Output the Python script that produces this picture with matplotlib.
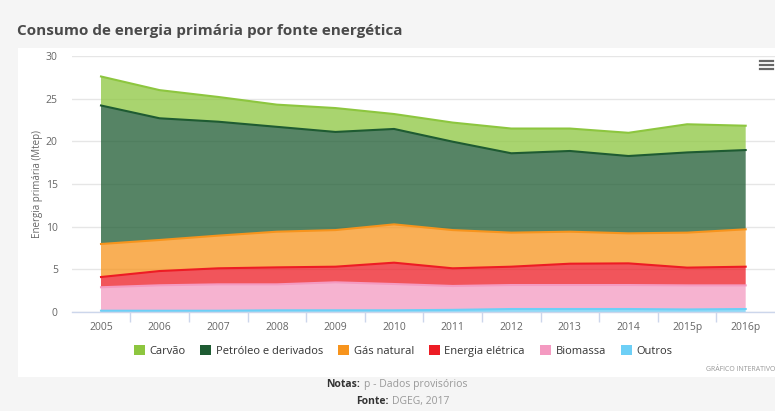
import numpy as np
import matplotlib
matplotlib.use("Agg")
import matplotlib.pyplot as plt
import matplotlib.patches as mpatches
from matplotlib.lines import Line2D

# ---------------------------------------------------------------------------
# Data (Mtep)
# ---------------------------------------------------------------------------
YEARS = ["2005", "2006", "2007", "2008", "2009", "2010",
         "2011", "2012", "2013", "2014", "2015p", "2016p"]

OUTROS    = [0.15, 0.15, 0.15, 0.20, 0.20, 0.20, 0.25, 0.35, 0.35, 0.35, 0.30, 0.35]
BIOMASSA  = [2.75, 2.98, 3.09, 3.04, 3.28, 3.08, 2.80, 2.81, 2.81, 2.81, 2.82, 2.77]
ELETRICA  = [1.20, 1.67, 1.88, 1.99, 1.83, 2.50, 2.07, 2.15, 2.50, 2.54, 2.08, 2.19]
GAS       = [3.87, 3.64, 3.83, 4.18, 4.29, 4.49, 4.48, 3.99, 3.75, 3.52, 4.10, 4.38]
PETROLEO  = [16.23, 14.26, 13.35, 12.29, 11.50, 11.18, 10.36, 9.30, 9.46, 9.06, 9.40, 9.29]
CARVAO    = [3.40, 3.30, 2.90, 2.60, 2.80, 1.75, 2.24, 2.90, 2.63, 2.72, 3.30, 2.85]

# bottom -> top stacking order
SERIES = [
    ("Outros", OUTROS, "#6dcff6"),
    ("Biomassa", BIOMASSA, "#f49ac1"),
    ("Energia elétrica", ELETRICA, "#ed1c24"),
    ("Gás natural", GAS, "#f7941d"),
    ("Petróleo e derivados", PETROLEO, "#1e5b32"),
    ("Carvão", CARVAO, "#8dc63f"),
]

BG_GRAY = "#f5f5f5"
TEXT_GRAY = "#666666"
FONT = ["Open Sans", "DejaVu Sans"]

# ---------------------------------------------------------------------------
# Figure
# ---------------------------------------------------------------------------
fig = plt.figure(figsize=(7.75, 4.11), dpi=100, facecolor=BG_GRAY)

# white chart panel (behind everything)
panel = fig.add_axes([18 / 775, 34 / 411, 1 - 18 / 775, 329 / 411], zorder=-10)
panel.set_facecolor("white")
panel.set_xticks([])
panel.set_yticks([])
for sp in panel.spines.values():
    sp.set_visible(False)

ax = fig.add_axes([71.7 / 775, 99 / 411, 1 - 71.7 / 775, 256 / 411])
ax.patch.set_alpha(0)

x = np.arange(len(YEARS))
values = np.array([s[1] for s in SERIES])
tops = np.cumsum(values, axis=0)

ax.stackplot(x, values, colors=[s[2] for s in SERIES], alpha=0.75,
             linewidth=0, zorder=2)
for (name, vals, col), top in zip(SERIES, tops):
    ax.plot(x, top, color=col, linewidth=1.5, zorder=3, solid_joinstyle="round")

ax.set_xlim(-0.5, len(YEARS) - 0.5)
ax.set_ylim(0, 30)
ax.set_yticks([0, 5, 10, 15, 20, 25, 30])
ax.yaxis.grid(True, color="#e6e6e6", linewidth=1.0, zorder=1)
ax.set_axisbelow(True)

ax.set_xticks(x)
ax.set_xticklabels(YEARS)
ax.set_xticks(np.arange(0.5, len(YEARS) - 0.5, 1.0), minor=True)
ax.tick_params(axis="x", which="major", length=0, pad=7, labelsize=7.5,
               labelcolor=TEXT_GRAY)
ax.tick_params(axis="x", which="minor", length=7, width=1, color="#ccd6eb")
ax.tick_params(axis="y", length=0, pad=10, labelsize=7.5, labelcolor=TEXT_GRAY)
for lab in ax.get_xticklabels() + ax.get_yticklabels():
    lab.set_family(FONT)

for side in ("top", "right", "left"):
    ax.spines[side].set_visible(False)
ax.spines["bottom"].set_color("#ccd6eb")
ax.spines["bottom"].set_linewidth(1)
ax.spines["bottom"].set_zorder(4)

ax.set_ylabel("Energia primária (Mtep)", fontsize=7, color=TEXT_GRAY, family=FONT)
ax.yaxis.set_label_coords(-0.041, 0.5)

# title
fig.text(17 / 775, 1 - 31 / 411, "Consumo de energia primária por fonte energética",
         fontsize=11, fontweight="bold", color="#4a4a4a",
         family=FONT, va="center", ha="left")

# menu icon
for yy in (61, 65, 69):
    fig.add_artist(Line2D([760 / 775, 773 / 775], [1 - yy / 411, 1 - yy / 411],
                          transform=fig.transFigure, color="#666666", linewidth=1.6))

# legend (Carvão first, as in the reference)
handles = [mpatches.Patch(facecolor=col, edgecolor="none", label=name)
           for name, _, col in SERIES[::-1]]
leg = fig.legend(handles=handles, loc="center", ncol=6,
                 bbox_to_anchor=(403 / 775, 1 - 351 / 411), frameon=False,
                 handlelength=1.0, handleheight=1.0, handletextpad=0.4,
                 columnspacing=1.35, prop={"family": FONT, "size": 8})
for t in leg.get_texts():
    t.set_color("#333333")

fig.text(775 / 775, 1 - 369 / 411, "GRÁFICO INTERATIVO", fontsize=5,
         color="#999999", ha="right", va="center", family=FONT)

# notes
fig.text(360 / 775, 1 - 384 / 411, "Notas:", fontsize=7.5, fontweight="bold",
         color="#333333", ha="right", va="center", family=FONT)
fig.text(364 / 775, 1 - 384 / 411, "p - Dados provisórios", fontsize=7.5,
         color="#999999", ha="left", va="center", family=FONT)
fig.text(389 / 775, 1 - 401 / 411, "Fonte:", fontsize=7.5, fontweight="bold",
         color="#333333", ha="right", va="center", family=FONT)
fig.text(392 / 775, 1 - 401 / 411, "DGEG, 2017", fontsize=7.5,
         color="#999999", ha="left", va="center", family=FONT)

fig.savefig("out.png", dpi=100, facecolor=BG_GRAY)
